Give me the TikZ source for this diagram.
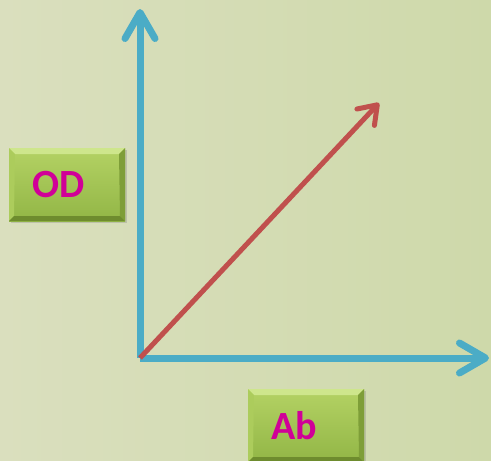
\documentclass[tikz,border=0pt]{standalone}
\usepackage{fontspec}
\setmainfont{Carlito}
\usetikzlibrary{arrows.meta,calc,shadows}
\definecolor{axisblue}{RGB}{75,172,198}
\definecolor{vecred}{RGB}{192,80,77}
\definecolor{txtmag}{RGB}{208,0,152}
\definecolor{bgleft}{RGB}{218,223,190}
\definecolor{bgright}{RGB}{206,217,170}
\definecolor{facetop}{RGB}{180,210,100}
\definecolor{facebot}{RGB}{146,182,70}
\definecolor{bevtop}{RGB}{206,230,140}
\definecolor{bevleft}{RGB}{172,204,92}
\definecolor{bevright}{RGB}{126,158,56}
\definecolor{bevbot}{RGB}{110,140,46}
\tikzset{
  bevelbox/.style={rectangle, minimum width=116pt, minimum height=73pt,
    text width=70pt, inner xsep=23pt, inner ysep=0pt, align=left,
    font=\bfseries\fontsize{40}{42}\selectfont, text=txtmag,
    top color=facetop, bottom color=facebot,
    drop shadow={shadow xshift=2pt, shadow yshift=-2pt, opacity=.3},
    path picture={
      \coordinate (bnw) at (path picture bounding box.north west);
      \coordinate (bne) at (path picture bounding box.north east);
      \coordinate (bsw) at (path picture bounding box.south west);
      \coordinate (bse) at (path picture bounding box.south east);
      \fill[bevtop] (bnw) -- (bne) -- ($(bne)+(-6,6)$) -- ($(bnw)+(6,6)$) -- cycle;
      \fill[bevleft] (bnw) -- (bsw) -- ($(bsw)+(5,-5)$) -- ($(bnw)+(6,6)$) -- cycle;
      \fill[bevright] (bne) -- (bse) -- ($(bse)+(-5,-5)$) -- ($(bne)+(-6,6)$) -- cycle;
      \fill[bevbot] (bsw) -- (bse) -- ($(bse)+(-5,-5)$) -- ($(bsw)+(5,-5)$) -- cycle;
    }},
  axisline/.style={line width=7pt, draw=axisblue,
    -{Straight Barb[length=26pt,width=30pt,round]}},
  vecline/.style={line width=5pt, draw=vecred,
    -{Straight Barb[length=17pt,width=24pt,round]}}
}
\begin{document}
\begin{tikzpicture}[x=1pt,y=-1pt]
  \useasboundingbox (0,0) rectangle (491,461);
  \shade[left color=bgleft, right color=bgright] (0,0) rectangle (491,461);
  \coordinate (o) at (140,358);
  \coordinate (ytop) at (140,9);
  \coordinate (xend) at (489,358);
  \coordinate (vend) at (379,103);
  \draw[axisline] (o) -- (ytop);
  \draw[axisline] (o) -- (xend);
  \draw[vecline] (o) -- (vend);
  \node[bevelbox] (od) at (67,184.5) {OD};
  \node[bevelbox] (ab) at (306,425.5) {Ab};
\end{tikzpicture}
\end{document}
